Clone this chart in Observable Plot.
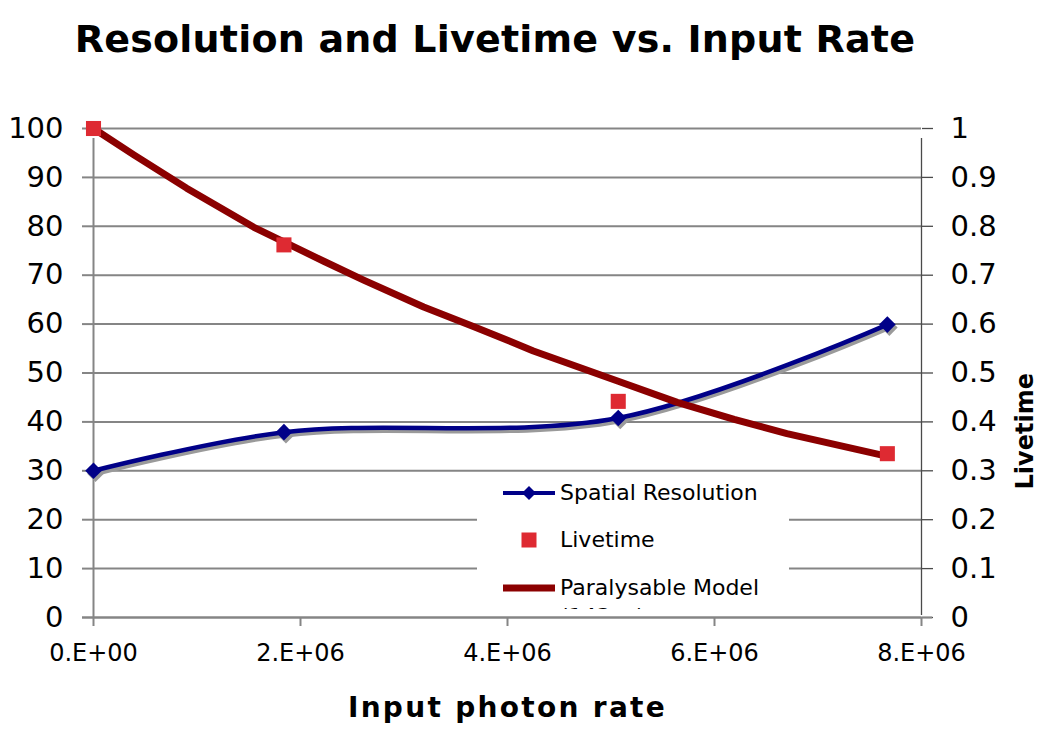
<!DOCTYPE html>
<html>
<head>
<meta charset="utf-8">
<script src="https://cdn.jsdelivr.net/npm/d3@7"></script>
<script src="https://cdn.jsdelivr.net/npm/@observablehq/plot@0.6"></script>
<style>
  html, body { margin: 0; padding: 0; background: #fff; }
  #page { position: relative; width: 1050px; height: 732px; overflow: hidden; background: #fff; font-family: "DejaVu Sans", Verdana, sans-serif; }
  #title { position: absolute; left: 0; top: 20px; width: 990px; text-align: center; font-weight: bold; font-size: 38px; line-height: 38px; color: #000; white-space: nowrap; letter-spacing: 0.2px; }
  #chart { position: absolute; left: 0; top: 90px; }
  #legend { position: absolute; left: 477px; top: 474px; width: 312px; height: 135px; background: #fff; overflow: hidden; }
  #legend .lab { position: absolute; left: 83px; font-size: 22px; line-height: 26px; color: #000; white-space: nowrap; }
  #legend svg { position: absolute; left: 24px; }
</style>
</head>
<body>
<div id="page">
  <div id="title">Resolution and Livetime vs. Input Rate</div>
  <div id="chart"></div>
  <div id="legend"></div>
</div>
<script>
// ---- data ----
const rate = [0, 1.84e6, 5.07e6, 7.67e6];
const resolution = [30.0, 37.9, 40.8, 59.9];
const livetime = [1.0, 0.762, 0.442, 0.335];

const modelRate = [0, 0.39e6, 0.9e6, 1.55e6, 2.23e6, 2.61e6, 3.19e6, 3.67e6, 4.0e6, 4.25e6, 5.07e6, 5.64e6, 6.19e6, 6.70e6, 7.64e6];
const modelLivetime = [1.0, 0.946, 0.878, 0.798, 0.728, 0.690, 0.635, 0.595, 0.567, 0.545, 0.483, 0.440, 0.405, 0.376, 0.331];

const leftTicks = [0, 10, 20, 30, 40, 50, 60, 70, 80, 90, 100];
const rightTickLabels = ["0", "0.1", "0.2", "0.3", "0.4", "0.5", "0.6", "0.7", "0.8", "0.9", "1"];
const xTicks = [0, 2e6, 4e6, 6e6, 8e6];
const xTickLabels = ["0.E+00", "2.E+06", "4.E+06", "6.E+06", "8.E+06"];

const seriesNames = ["Spatial Resolution", "Livetime", "Paralysable Model", "(143ns)"];
const colors = { res: "#000088", shadow: "#9a9a9a", live: "#de2a32", model: "#8b0000", grid: "#858585", axisR: "#4a4a4a" };

// ---- tables ----
const resData = rate.map((x, i) => ({ x, y: resolution[i] }));
const liveData = rate.map((x, i) => ({ x, v: livetime[i] }));
const modelData = modelRate.map((x, i) => ({ x, v: modelLivetime[i] }));

const chart = Plot.plot({
  width: 1050,
  height: 642,
  marginTop: 38,
  marginBottom: 115,
  marginLeft: 93,
  marginRight: 129,
  x: { domain: [0, 8e6] },
  y: { domain: [0, 100] },
  style: { fontFamily: "DejaVu Sans, Verdana, sans-serif", background: "transparent", color: "#000", overflow: "visible" },
  marks: [
    Plot.gridY(leftTicks, { stroke: colors.grid, strokeOpacity: 1, strokeWidth: 2 }),
    Plot.axisY(leftTicks, { anchor: "left", tickSize: 11, tickPadding: 19, fontSize: 29, stroke: colors.grid, strokeWidth: 2, tickFormat: d => String(d), label: null }),
    Plot.axisY(leftTicks, { anchor: "right", tickSize: 11, tickPadding: 18, fontSize: 29, stroke: colors.axisR, strokeWidth: 1.3, tickFormat: d => rightTickLabels[leftTicks.indexOf(d)], label: null }),
    Plot.axisX(xTicks, { anchor: "bottom", tickSize: 9, tickPadding: 17, fontSize: 24, stroke: colors.grid, strokeWidth: 2, tickFormat: d => xTickLabels[xTicks.indexOf(d)], label: null }),
    Plot.ruleX([0], { y1: 0, y2: 100, stroke: colors.grid, strokeWidth: 2, insetBottom: -10 }),
    Plot.ruleX([8e6], { y1: 0, y2: 100, stroke: colors.axisR, strokeWidth: 1.3, insetBottom: -10, insetTop: -2 }),
    Plot.ruleY([0], { x1: 0, x2: 8e6, stroke: colors.grid, strokeWidth: 2.2, insetLeft: -11, insetRight: -11 }),
    // Spatial resolution (with shadow)
    Plot.line(resData, { x: "x", y: "y", curve: "catmull-rom", stroke: colors.shadow, strokeWidth: 4.5, dx: 2, dy: 3 }),
    Plot.dot(resData, { x: "x", y: "y", symbol: "diamond2", r: 7.5, fill: colors.shadow, stroke: null, dx: 2, dy: 3 }),
    Plot.line(resData, { x: "x", y: "y", curve: "catmull-rom", stroke: colors.res, strokeWidth: 4.5 }),
    Plot.dot(resData, { x: "x", y: "y", symbol: "diamond2", r: 7.5, fill: colors.res, stroke: null }),
    // Paralysable model (secondary axis: 0..1 mapped onto 0..100)
    Plot.line(modelData, { x: "x", y: d => d.v * 100, stroke: colors.model, strokeWidth: 7, strokeLinejoin: "round" }),
    // Measured livetime
    Plot.dot(liveData, { x: "x", y: d => d.v * 100, symbol: "square", r: 8.5, fill: colors.live, stroke: null }),
    // Axis titles
    Plot.text(["Input photon rate"], { frameAnchor: "bottom", lineAnchor: "top", dy: 80, fontSize: 28, fontWeight: "bold" }),
    Plot.text(["Livetime"], { frameAnchor: "right", rotate: -90, dx: 104, fontSize: 24, fontWeight: "bold" })
  ]
});
document.getElementById("chart").appendChild(chart);

// slight letter spacing to match the wider original face
d3.select(chart).selectAll("text").filter(function () { return this.textContent === "Input photon rate"; }).attr("letter-spacing", "2.3px");

// ---- legend ----
const legend = document.getElementById("legend");
const rows = [
  { top: 6, name: seriesNames[0], kind: "res" },
  { top: 53, name: seriesNames[1], kind: "live" },
  { top: 101, name: seriesNames[2], kind: "model" },
  { top: 130, name: seriesNames[3], kind: null }
];
for (const r of rows) {
  const lab = document.createElement("div");
  lab.className = "lab";
  lab.style.top = r.top + "px";
  lab.textContent = r.name;
  legend.appendChild(lab);
  if (!r.kind) continue;
  const sw = d3.create("svg").attr("width", 56).attr("height", 20).style("top", (r.top + 12.6 - 10) + "px");
  if (r.kind === "res") {
    sw.append("line").attr("x1", 2).attr("x2", 54).attr("y1", 10).attr("y2", 10).attr("stroke", colors.res).attr("stroke-width", 4);
    sw.append("path").attr("d", "M28,3L35,10L28,17L21,10Z").attr("fill", colors.res);
  } else if (r.kind === "live") {
    sw.append("rect").attr("x", 20.5).attr("y", 2.5).attr("width", 15).attr("height", 15).attr("fill", colors.live);
  } else {
    sw.append("line").attr("x1", 2).attr("x2", 54).attr("y1", 10).attr("y2", 10).attr("stroke", colors.model).attr("stroke-width", 7);
  }
  legend.appendChild(sw.node());
}
</script>
</body>
</html>
